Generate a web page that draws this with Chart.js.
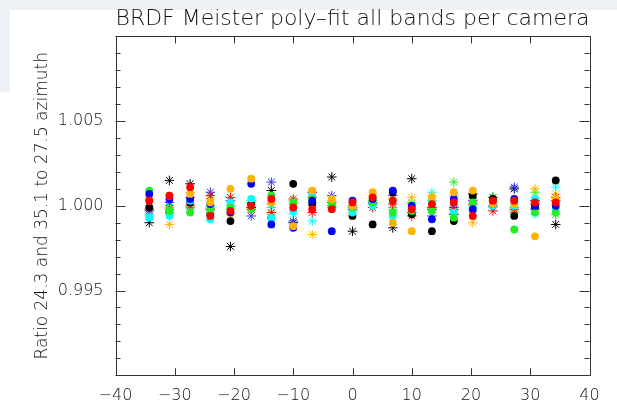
<!DOCTYPE html>
<html>
<head>
<meta charset="utf-8">
<script src="https://cdn.jsdelivr.net/npm/chart.js@4"></script>
<style>
  body { margin: 0; background: #fff; }
  #wrap { position: relative; width: 617px; height: 405px; }
  .edge { position: absolute; background: #eef1f5; }
  #chart { position: absolute; left: 0; top: 0; }
</style>
</head>
<body>
<div id="wrap">
  <div class="edge" style="left:0;top:0;width:617px;height:10px"></div>
  <div class="edge" style="left:0;top:0;width:10px;height:92px"></div>
  <canvas id="chart" width="617" height="405"></canvas>
</div>
<script>
// view angle of each camera column
const cameraAngles = [-34.3, -30.9, -27.4, -24.0, -20.6, -17.1, -13.7, -10.0, -6.8, -3.5, 0.0,
  3.4, 6.8, 10.0, 13.4, 17.1, 20.3, 23.7, 27.3, 30.8, 34.3]

// filled circles
const redDots = [1.0003, 1.0006, 1.0011, 0.9994, 0.9997, 1.0000, 1.0004, 0.9999, 0.9998, 0.9998, 1.0002,
  1.0005, 1.0003, 0.9998, 1.0001, 1.0002, 0.9994, 1.0003, 1.0003, 1.0002, 1.0002]
const orangeDots = [1.0003, 1.0006, 1.0007, 1.0002, 1.0010, 1.0016, 1.0002, 0.9988, 1.0009, 1.0004, 1.0000,
  1.0008, 0.9990, 0.9985, 1.0005, 1.0008, 1.0009, 1.0001, 1.0001, 0.9982, 1.0004]
const blueDots = [1.0007, 1.0004, 1.0004, 1.0001, 0.9996, 1.0013, 0.9989, 0.9987, 1.0003, 0.9985, 1.0003,
  1.0004, 1.0009, 1.0000, 0.9992, 1.0004, 0.9998, 1.0001, 1.0004, 1.0000, 1.0000]
const greenDots = [1.0009, 0.9997, 0.9996, 0.9997, 0.9999, 0.9998, 1.0006, 1.0002, 1.0004, 1.0001, 0.9999,
  1.0002, 0.9996, 0.9997, 0.9997, 0.9993, 1.0002, 1.0002, 0.9986, 0.9996, 0.9996]
const cyanDots = [0.9993, 0.9994, 1.0003, 0.9992, 1.0002, 1.0004, 0.9993, 0.9997, 1.0007, 1.0000, 0.9996,
  1.0000, 0.9994, 0.9999, 1.0003, 0.9996, 0.9997, 1.0000, 1.0000, 1.0004, 0.9998]
const blackDots = [0.9999, 0.9996, 1.0002, 0.9995, 0.9991, 1.0001, 0.9993, 1.0013, 1.0001, 1.0000, 0.9994,
  0.9989, 1.0008, 0.9995, 0.9985, 0.9991, 1.0006, 1.0004, 0.9994, 0.9999, 1.0015]

// asterisks
const redStars = [0.9998, 0.9998, 1.0000, 1.0006, 1.0005, 0.9998, 0.9996, 1.0004, 0.9996, 1.0002, 1.0000,
  0.9999, 1.0001, 0.9994, 0.9999, 0.9998, 1.0001, 0.9997, 0.9998, 1.0001, 1.0005]
const orangeStars = [1.0005, 0.9989, 1.0008, 1.0004, 0.9995, 1.0001, 0.9995, 1.0003, 0.9983, 1.0003, 0.9996,
  1.0006, 1.0004, 1.0005, 1.0006, 1.0006, 0.9990, 1.0003, 0.9996, 1.0010, 1.0007]
const blueStars = [0.9997, 1.0002, 1.0005, 1.0008, 1.0003, 0.9994, 1.0014, 0.9991, 1.0005, 1.0006, 0.9998,
  1.0002, 1.0006, 0.9996, 0.9994, 0.9999, 1.0003, 1.0000, 1.0011, 0.9998, 1.0003]
const greenStars = [0.9994, 1.0000, 0.9999, 1.0000, 0.9998, 1.0003, 1.0001, 1.0001, 1.0002, 1.0000, 0.9999,
  1.0003, 0.9998, 1.0002, 1.0003, 1.0014, 1.0004, 1.0005, 0.9999, 1.0008, 0.9995]
const cyanStars = [0.9995, 0.9999, 0.9998, 0.9999, 1.0000, 1.0002, 0.9999, 0.9995, 0.9991, 0.9999, 0.9997,
  1.0001, 0.9999, 1.0001, 1.0008, 1.0000, 1.0000, 0.9999, 0.9997, 0.9995, 1.0011]
const blackStars = [0.9990, 1.0015, 1.0013, 0.9998, 0.9976, 0.9999, 1.0009, 0.9990, 1.0008, 1.0017, 0.9985,
  1.0001, 0.9987, 1.0016, 0.9998, 0.9995, 1.0007, 1.0005, 1.0010, 1.0003, 0.9989]

const xTicks = [-40, -30, -20, -10, 0, 10, 20, 30, 40]
const yLabelTicks = [0.995, 1.000, 1.005]

const textColor = '#111'
const fontFamily = "'DejaVu Sans', sans-serif"

function makeSet (values, color, style) {
  const star = style === 'star'
  return {
    data: values.map((v, i) => ({ x: cameraAngles[i], y: v })),
    pointStyle: style,
    pointRadius: star ? 4.8 : 3.9,
    pointBorderWidth: star ? 1 : 0,
    pointBorderColor: color,
    pointBackgroundColor: color,
    showLine: false,
  }
}

// first dataset is drawn on top
const datasets = [
  makeSet(redDots, '#ff0000', 'circle'),
  makeSet(orangeDots, '#ffb300', 'circle'),
  makeSet(blueDots, '#0000ff', 'circle'),
  makeSet(greenDots, '#22ee22', 'circle'),
  makeSet(cyanDots, '#00ffff', 'circle'),
  makeSet(blackDots, '#000000', 'circle'),
  makeSet(redStars, '#ff0000', 'star'),
  makeSet(orangeStars, '#ffb300', 'star'),
  makeSet(blueStars, '#3030ff', 'star'),
  makeSet(greenStars, '#22ee22', 'star'),
  makeSet(cyanStars, '#00ffff', 'star'),
  makeSet(blackStars, '#000000', 'star'),
]

// IDL style box with inward ticks
const frame = {
  id: 'frame',
  afterDraw (chart) {
    const { ctx, chartArea: a } = chart
    const x = chart.scales.x
    const y = chart.scales.y
    ctx.save()
    ctx.strokeStyle = '#333'
    ctx.lineWidth = 1
    ctx.beginPath()
    ctx.rect(Math.round(a.left) + 0.5, Math.round(a.top) + 0.5,
      Math.round(a.right - a.left), Math.round(a.bottom - a.top))
    for (const t of xTicks) {
      const px = Math.round(x.getPixelForValue(t)) + 0.5
      ctx.moveTo(px, a.bottom); ctx.lineTo(px, a.bottom - 7)
      ctx.moveTo(px, a.top); ctx.lineTo(px, a.top + 7)
    }
    for (let k = 0; k <= 20; k++) {
      const v = 0.990 + k * 0.001
      const len = k % 5 === 0 ? 10 : 5
      const py = Math.round(y.getPixelForValue(v)) + 0.5
      ctx.moveTo(a.left, py); ctx.lineTo(a.left + len, py)
      ctx.moveTo(a.right, py); ctx.lineTo(a.right - len, py)
    }
    ctx.stroke()
    ctx.restore()
  },
}

const config = {
  type: 'scatter',
  data: {
    datasets: datasets,
  },
  options: {
    responsive: false,
    devicePixelRatio: 1,
    animation: false,
    layout: {
      padding: { left: 0, right: 27.5, top: 0, bottom: 0 },
    },
    plugins: {
      legend: { display: false },
      tooltip: { enabled: false },
      title: {
        display: true,
        fullSize: false,
        text: 'BRDF Meister poly\u2013fit all bands per camera',
        color: textColor,
        font: { family: fontFamily, size: 22, weight: 200, lineHeight: 1.1 },
        padding: { top: 7, bottom: 5.2 },
      },
    },
    scales: {
      x: {
        type: 'linear',
        min: -40,
        max: 40,
        afterFit: (s) => { s.height = 29.8 },
        afterBuildTicks: (s) => { s.ticks = xTicks.map(v => ({ value: v })) },
        grid: { display: false, drawTicks: false },
        border: { display: false },
        ticks: {
          color: textColor,
          padding: 11,
          maxRotation: 0,
          autoSkip: false,
          font: { family: fontFamily, size: 16, weight: 200 },
          callback: (v) => (v < 0 ? '\u2212' + Math.abs(v) : String(v)),
        },
      },
      y: {
        type: 'linear',
        min: 0.990,
        max: 1.010,
        afterFit: (s) => { s.width = 115.5 },
        afterBuildTicks: (s) => { s.ticks = yLabelTicks.map(v => ({ value: v })) },
        grid: { display: false, drawTicks: false },
        border: { display: false },
        title: {
          display: true,
          text: 'Ratio 24.3 and 35.1 to 27.5 azimuth',
          color: textColor,
          font: { family: fontFamily, size: 17, weight: 200 },
          padding: { top: 32, bottom: 0 },
        },
        ticks: {
          color: textColor,
          padding: 12,
          autoSkip: false,
          font: { family: fontFamily, size: 16, weight: 200 },
          callback: (v) => v.toFixed(3),
        },
      },
    },
  },
  plugins: [frame],
}

const ctx = document.getElementById('chart').getContext('2d')
const myChart = new Chart(ctx, config)
</script>
</body>
</html>
